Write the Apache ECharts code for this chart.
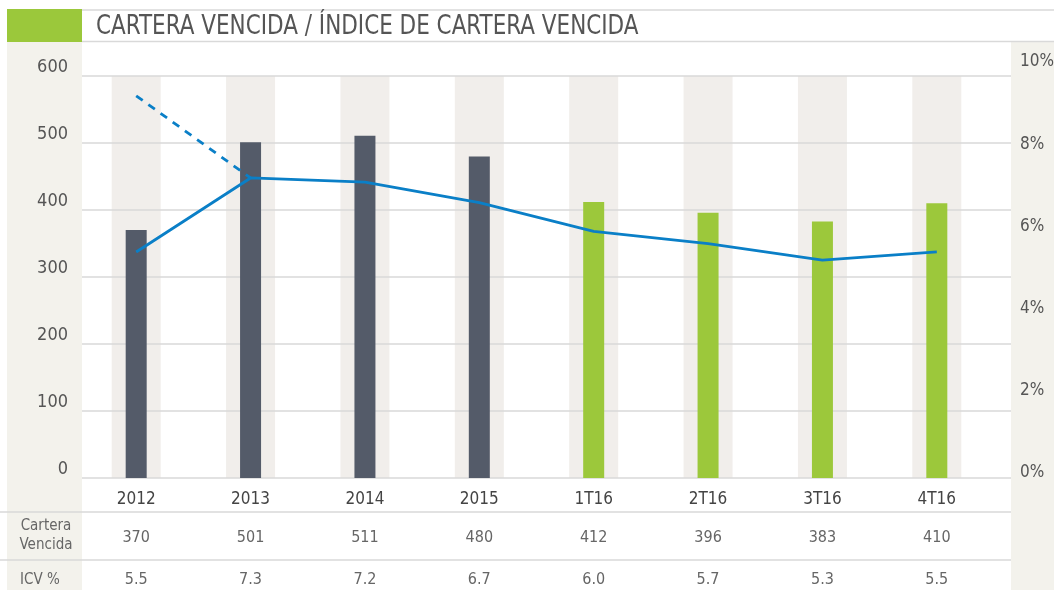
<!DOCTYPE html>
<html>
<head>
<meta charset="utf-8">
<script src="https://cdn.jsdelivr.net/npm/echarts@6/dist/echarts.min.js"></script>
<style>
  html, body { margin: 0; padding: 0; background: #fff; }
  #chart { width: 1054px; height: 590px; }
</style>
</head>
<body>
<div id="chart"></div>
<script>
// datos
var categories = ["2012", "2013", "2014", "2015", "1T16", "2T16", "3T16", "4T16"];
var cartera = [370, 501, 511, 480, 412, 396, 383, 410];
var icv = [5.5, 7.3, 7.2, 6.7, 6.0, 5.7, 5.3, 5.5];
// tramo punteado 2012-2013
var icvTrend = [9.3, 7.3, "-", "-", "-", "-", "-", "-"];
var leftTicks = [0, 100, 200, 300, 400, 500, 600];
var rightTicks = [0, 2, 4, 6, 8, 10];

var FONT = "DejaVu Sans Condensed";
var beige = "#f3f2ec";
var lineGray = "#d9d9d9";

var myChart = echarts.init(document.getElementById("chart"));

var option = {
  backgroundColor: "#fff",
  animation: false,
  graphic: [
    // franjas laterales
    { type: "rect", left: 7, top: 42, shape: { width: 75, height: 548 }, style: { fill: beige }, z: -10 },
    { type: "rect", left: 1011, top: 42, shape: { width: 43, height: 548 }, style: { fill: beige }, z: -10 },
    // cabecera
    { type: "rect", left: 7, top: 9, shape: { width: 75, height: 33 }, style: { fill: "#9bc83b" } },
    { type: "line", shape: { x1: 82, y1: 10, x2: 1054, y2: 10 }, style: { stroke: lineGray, lineWidth: 1.5 } },
    { type: "line", shape: { x1: 82, y1: 41.5, x2: 1054, y2: 41.5 }, style: { stroke: lineGray, lineWidth: 1.5 } },
    {
      type: "text", x: 96, y: 27, scaleX: 0.92,
      style: {
        text: "CARTERA VENCIDA / ÍNDICE DE CARTERA VENCIDA",
        fontFamily: FONT, fontSize: 26, fill: "#555", verticalAlign: "middle"
      }
    },
    // tabla
    { type: "line", shape: { x1: 0, y1: 512, x2: 1011, y2: 512 }, style: { stroke: lineGray, lineWidth: 1.5 } },
    { type: "line", shape: { x1: 0, y1: 560, x2: 1011, y2: 560 }, style: { stroke: lineGray, lineWidth: 1.5 } },
    {
      type: "text", x: 46, y: 536,
      style: {
        text: "Cartera\nVencida", fontFamily: FONT, fontSize: 15, fill: "#666",
        lineHeight: 19, align: "center", verticalAlign: "middle"
      }
    },
    {
      type: "text", x: 20, y: 580,
      style: { text: "ICV %", fontFamily: FONT, fontSize: 15, fill: "#666", verticalAlign: "middle" }
    }
  ],
  grid: [
    { left: 79, right: 60, top: 76, bottom: 112, outerBoundsMode: "none" },
    { left: 79, right: 60, top: 67, bottom: 112, outerBoundsMode: "none" },
    { left: 82, right: 43, top: 76, bottom: 112, outerBoundsMode: "none" }
  ],
  xAxis: [
    {
      gridIndex: 0,
      type: "category",
      data: categories,
      axisLine: { show: false },
      axisTick: { show: false },
      axisLabel: {
        margin: 3,
        verticalAlign: "top",
        formatter: function (val, i) {
          return "{c|" + val + "}\n{v|" + cartera[i] + "}\n{w|" + icv[i].toFixed(1) + "}";
        },
        rich: {
          c: { fontFamily: FONT, fontSize: 17, color: "#444", lineHeight: 38 },
          v: { fontFamily: FONT, fontSize: 16, color: "#666", lineHeight: 38 },
          w: { fontFamily: FONT, fontSize: 16, color: "#666", lineHeight: 46 }
        }
      }
    },
    { gridIndex: 0, type: "category", data: categories, show: false },
    { gridIndex: 1, type: "category", data: categories, show: false },
    { gridIndex: 2, type: "value", min: 0, max: 1, show: false }
  ],
  yAxis: [
    { gridIndex: 0, type: "value", min: 0, max: 600, show: false },
    {
      gridIndex: 1,
      type: "value",
      min: rightTicks[0],
      max: rightTicks[rightTicks.length - 1],
      interval: 2,
      position: "right",
      axisLine: { show: false },
      axisTick: { show: false },
      splitLine: { show: false },
      axisLabel: {
        margin: 26,
        align: "left",
        verticalAlign: "bottom",
        lineHeight: 10,
        formatter: "{value}%",
        fontFamily: FONT,
        fontSize: 17,
        color: "#555"
      }
    },
    {
      gridIndex: 2,
      type: "value",
      min: leftTicks[0],
      max: leftTicks[leftTicks.length - 1],
      interval: 100,
      z: 1,
      axisLine: { show: false },
      axisTick: { show: false },
      splitLine: { show: true, lineStyle: { color: lineGray, width: 1.5 } },
      axisLabel: {
        margin: 14,
        verticalAlign: "bottom",
        fontFamily: FONT,
        fontSize: 18,
        color: "#555"
      }
    }
  ],
  series: [
    {
      // columnas de fondo
      type: "bar",
      xAxisIndex: 1,
      yAxisIndex: 0,
      data: cartera,
      barWidth: 49,
      z: 0,
      silent: true,
      itemStyle: { color: "rgba(0,0,0,0)" },
      showBackground: true,
      backgroundStyle: { color: "#f1eeeb" }
    },
    {
      name: "Cartera Vencida",
      type: "bar",
      xAxisIndex: 0,
      yAxisIndex: 0,
      data: cartera,
      barWidth: 21,
      z: 2,
      itemStyle: {
        color: function (p) {
          return p.dataIndex < 4 ? "#545b69" : "#9cc83b";
        }
      }
    },
    {
      name: "ICV %",
      type: "line",
      xAxisIndex: 2,
      yAxisIndex: 1,
      data: icv,
      z: 3,
      symbol: "none",
      lineStyle: { color: "#0a7fc7", width: 2.8 }
    },
    {
      name: "ICV tendencia",
      type: "line",
      xAxisIndex: 2,
      yAxisIndex: 1,
      data: icvTrend,
      z: 3,
      symbol: "none",
      lineStyle: { color: "#0a7fc7", width: 2.8, type: [8, 7] }
    }
  ]
};

myChart.setOption(option);
</script>
</body>
</html>
